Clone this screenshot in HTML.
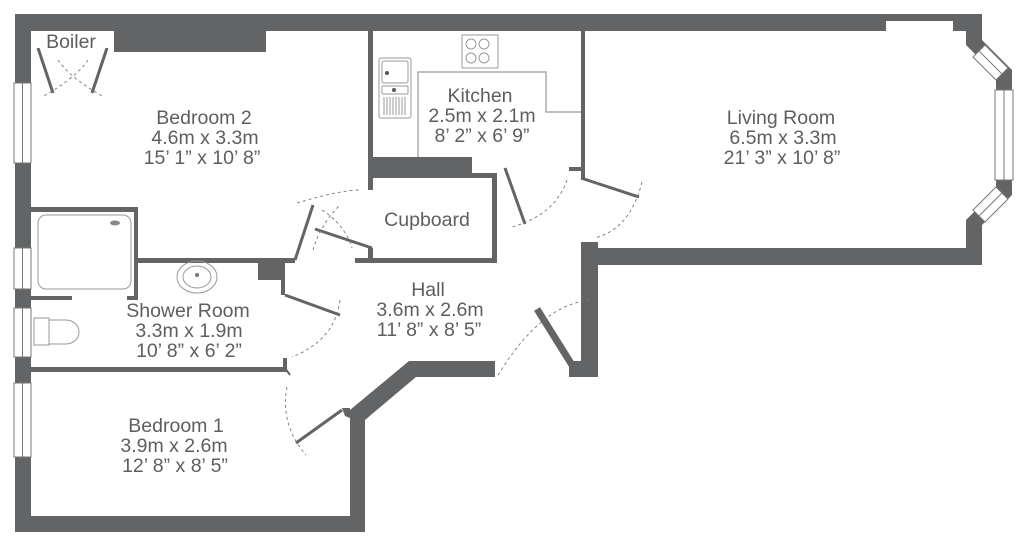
<!DOCTYPE html>
<html><head><meta charset="utf-8"><style>
html,body{margin:0;padding:0;background:#fff;}
svg{display:block}
text{font-family:"Liberation Sans",Arial,sans-serif;font-size:19.5px;fill:#5d5e60;text-anchor:middle}
</style></head><body>
<svg width="1024" height="541" viewBox="0 0 1024 541" xmlns="http://www.w3.org/2000/svg">
<g fill="#636466" stroke="none">
<rect x="15" y="14" width="967" height="17"/>
<rect x="114" y="31" width="152" height="21"/>
<rect x="15" y="14" width="16" height="517"/>
<rect x="15" y="516" width="350" height="16"/>
<rect x="350" y="410" width="15" height="122"/>
<polygon points="409,361 495,361 495,377 416,377 365,420 350,420 350,410"/>
<polygon points="342,408 350,408 350,418 345,416"/>
<rect x="581" y="242" width="17" height="135"/>
<rect x="569" y="361" width="29" height="16"/>
<rect x="581" y="248" width="401" height="17"/>
<polygon points="953,14 982,14 982,40 1012,70 1012,195 982,225 982,265 966,265 966,220 996,190 996,75 966,45 966,31 953,31"/>
<rect x="368" y="31" width="5" height="159"/>
<rect x="368" y="248" width="5" height="12"/>
<rect x="368" y="157" width="104" height="21"/>
<rect x="472" y="173" width="24" height="5"/>
<rect x="492" y="173" width="5" height="90"/>
<rect x="355" y="258" width="142" height="5"/>
<rect x="581" y="31" width="4" height="147"/>
<rect x="569" y="167" width="12" height="4"/>
<rect x="31" y="207" width="107" height="5"/>
<rect x="134" y="207" width="4" height="93"/>
<rect x="127" y="296" width="11" height="4"/>
<rect x="31" y="296" width="41" height="4"/>
<rect x="138" y="258" width="157" height="5"/>
<rect x="258" y="258" width="27" height="22"/>
<rect x="281" y="258" width="4" height="37"/>
<rect x="31" y="367" width="254" height="5"/>
<rect x="283" y="358" width="4" height="14"/>
</g>
<g stroke="#636466" stroke-width="3" fill="none">
<line x1="38" y1="48" x2="53" y2="93"/>
<line x1="107" y1="48" x2="92" y2="93"/>
<line x1="313" y1="205" x2="295" y2="260"/>
<line x1="315" y1="229" x2="372" y2="248"/>
<line x1="505" y1="168" x2="525" y2="224"/>
<line x1="581" y1="178" x2="639" y2="197"/>
<line x1="285" y1="295" x2="340" y2="315" />
<line x1="296" y1="443" x2="342" y2="410"/>
<line x1="285" y1="368" x2="290" y2="375" stroke-width="2"/>
</g>
<g stroke="#636466" stroke-width="7" fill="none">
<line x1="537" y1="309" x2="572" y2="365"/>
</g>
<g stroke="#777" stroke-width="0.9" fill="none" stroke-dasharray="3,3">
<path d="M58,60 Q70,78 104,97"/>
<path d="M88,60 Q76,78 42,97"/>
<path d="M297,203 Q340,190 360,190"/>
<path d="M322,210 Q345,225 352,248"/>
<path d="M313,250 Q320,225 340,205"/>
<path d="M567,180 Q555,215 512,227"/>
<path d="M642,182 Q630,230 594,238"/>
<path d="M340,300 Q335,340 292,357"/>
<path d="M287,387 Q280,425 306,455"/>
<path d="M590,300 Q540,305 497,377"/>
</g>
<g fill="#fff" stroke="#777" stroke-width="1">
<rect x="14" y="83" width="17" height="80"/><line x1="22.5" y1="83" x2="22.5" y2="163"/>
<rect x="14" y="248" width="17" height="41"/><line x1="22.5" y1="248" x2="22.5" y2="289"/>
<rect x="14" y="308" width="17" height="49"/><line x1="22.5" y1="308" x2="22.5" y2="357"/>
<rect x="14" y="383" width="17" height="74"/><line x1="22.5" y1="383" x2="22.5" y2="457"/>
<rect x="995" y="90" width="18" height="90"/><line x1="1004" y1="90" x2="1004" y2="180"/>
<polygon points="973,57 985,45 1008,68 996,80"/><line x1="979" y1="51" x2="1002" y2="74"/>
<polygon points="973,210 985,222 1008,199 996,187"/><line x1="979" y1="216" x2="1002" y2="193"/>
</g>
<rect x="31" y="31" width="83" height="17" fill="#fff"/>
<rect x="886" y="21" width="67" height="10" fill="#fff"/>
<g fill="none" stroke="#999" stroke-width="1">
<rect x="38" y="215" width="93" height="74" rx="8"/>
<ellipse cx="115" cy="223" rx="5" ry="2.5" fill="#888" stroke="none"/>
<ellipse cx="197" cy="277" rx="20" ry="16"/>
<ellipse cx="197" cy="277" rx="14" ry="11"/>
<rect x="34" y="318" width="15" height="27"/>
<path d="M49,320 H66 A13,12 0 0 1 66,344 H49"/>
<rect x="379" y="58" width="32" height="60" rx="2"/>
<rect x="382" y="61" width="26" height="22" rx="2"/>
<rect x="382" y="86" width="26" height="8" rx="1"/>
<path d="M384,97 V115 M387,97 V115 M390,97 V115 M393,97 V115 M396,97 V115 M399,97 V115 M402,97 V115 M405,97 V115"/>
<rect x="462" y="35" width="36" height="33"/>
<circle cx="471" cy="44" r="5"/><circle cx="484" cy="44" r="5"/>
<circle cx="471" cy="58" r="5"/><circle cx="484" cy="58" r="5"/>
<path d="M418,157 V72 H546 V112 H581" stroke="#aaa" stroke-width="1.5"/>
</g>
<circle cx="387" cy="73" r="2" fill="#555"/><circle cx="394" cy="90" r="2" fill="#555"/>
<circle cx="197" cy="275" r="2" fill="#777"/>
<text x="71" y="48">Boiler</text>
<text x="204" y="124">Bedroom 2</text>
<text x="205" y="144">4.6m x 3.3m</text>
<text x="202" y="164">15’ 1” x 10’ 8”</text>
<text x="480" y="102">Kitchen</text>
<text x="482" y="122">2.5m x 2.1m</text>
<text x="482" y="142">8’ 2” x 6’ 9”</text>
<text x="781" y="124">Living Room</text>
<text x="783" y="144">6.5m x 3.3m</text>
<text x="782" y="164">21’ 3” x 10’ 8”</text>
<text x="427" y="226">Cupboard</text>
<text x="428" y="296">Hall</text>
<text x="430" y="316">3.6m x 2.6m</text>
<text x="429" y="336">11’ 8” x 8’ 5”</text>
<text x="188" y="317">Shower Room</text>
<text x="189" y="337">3.3m x 1.9m</text>
<text x="189" y="357">10’ 8” x 6’ 2”</text>
<text x="176" y="432">Bedroom 1</text>
<text x="174" y="452">3.9m x 2.6m</text>
<text x="175" y="472">12’ 8” x 8’ 5”</text>
</svg>
</body></html>
